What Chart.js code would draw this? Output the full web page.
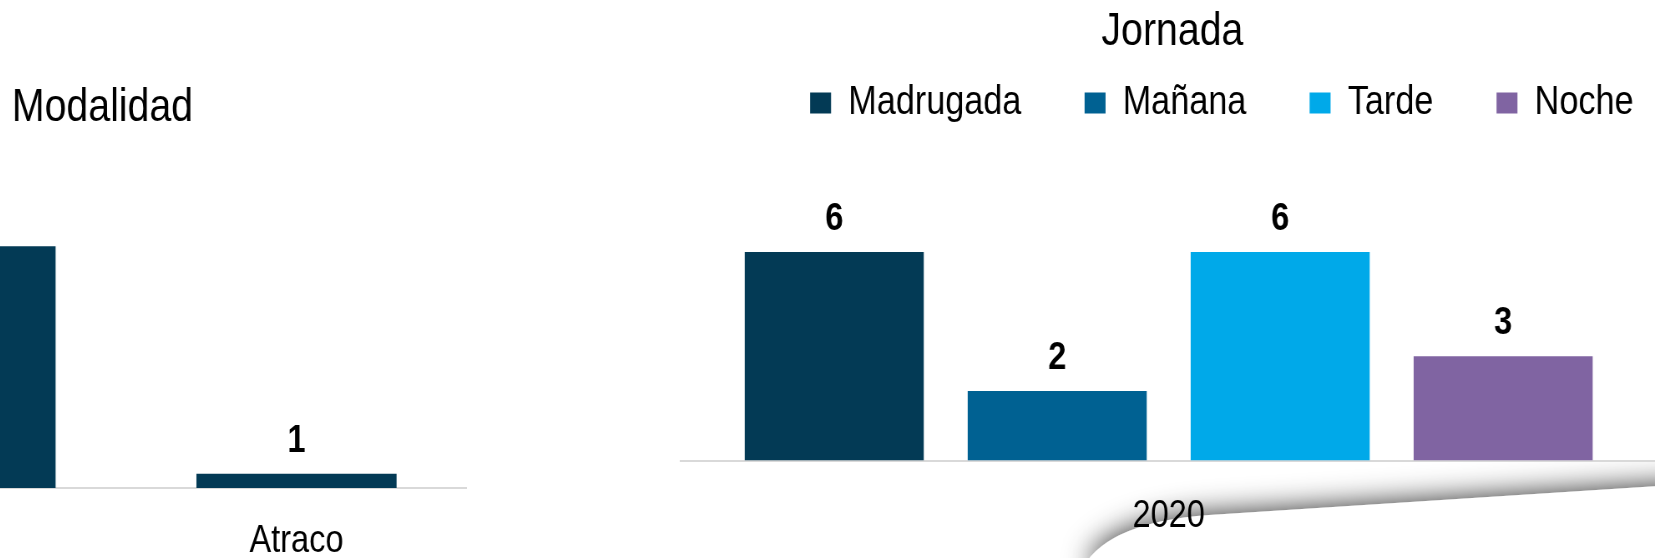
<!DOCTYPE html>
<html>
<head>
<meta charset="utf-8">
<script src="https://cdn.jsdelivr.net/npm/chart.js@4.4.1/dist/chart.umd.min.js"></script>
<style>
  html, body { margin: 0; padding: 0; background: #fff; }
  body { width: 1655px; height: 558px; position: relative; overflow: hidden; }
  /* the slide used Arial Narrow; no narrow face here, so squeeze the canvases */
  canvas { position: absolute; top: 0; transform: scaleX(0.835); transform-origin: 0 0; }
  #modalidad { left: -262.5px; }
  #jornada { left: 648.2px; }
</style>
</head>
<body>
<canvas id="modalidad" width="873" height="595"></canvas>
<canvas id="jornada" width="1256" height="572"></canvas>
<script>
const FONT = "'Liberation Sans', Arial, sans-serif";
const SQUEEZE = 0.835;
const JORNADA_LEFT = 648.2;

// Modalidad
const modalidadLabels = ['Hurto', 'Atraco'];
const modalidadValues = [17, 1];

// Jornada
const jornadaLabels = ['2020'];
const jornadaSeries = ['Madrugada', 'Mañana', 'Tarde', 'Noche'];
const jornadaValues = [6, 2, 6, 3];
const jornadaColors = ['#033a55', '#006192', '#00a9e9', '#8064a2'];

Chart.defaults.font.family = FONT;
Chart.defaults.color = '#000';

// numbers above the bars
const valueLabels = {
  id: 'valueLabels',
  afterDatasetsDraw(chart) {
    const ctx = chart.ctx;
    ctx.save();
    ctx.font = 'bold 39px ' + FONT;
    ctx.fillStyle = '#000';
    ctx.textAlign = 'center';
    ctx.textBaseline = 'middle';
    chart.data.datasets.forEach((ds, i) => {
      chart.getDatasetMeta(i).data.forEach((bar, j) => {
        ctx.fillText(ds.data[j], bar.x, bar.y - 33);
      });
    });
    ctx.restore();
  }
};

// curled page corner under the right chart (page coords)
const pageCurl = {
  id: 'pageCurl',
  beforeDraw(chart) {
    const ctx = chart.ctx;
    ctx.save();
    ctx.scale(1 / SQUEEZE, 1);
    ctx.translate(-JORNADA_LEFT, 0);
    // keep the shadow on the page side of the fold
    ctx.beginPath();
    ctx.moveTo(1720, 462);
    ctx.lineTo(1720, 482);
    ctx.lineTo(1209, 515);
    ctx.quadraticCurveTo(1110, 522, 1084, 566);
    ctx.lineTo(900, 566);
    ctx.lineTo(900, 462);
    ctx.closePath();
    ctx.clip();
    // the fold itself, only its shadow shows
    ctx.beginPath();
    ctx.moveTo(1720, 482);
    ctx.lineTo(1209, 515);
    ctx.quadraticCurveTo(1110, 522, 1084, 566);
    ctx.lineTo(1720, 640);
    ctx.closePath();
    ctx.shadowColor = 'rgba(0,0,0,0.85)';
    ctx.shadowBlur = 30;
    ctx.fillStyle = '#fff';
    ctx.fill();
    ctx.restore();
  }
};

const hiddenAxis = (w, pos) => ({
  display: true,
  position: pos,
  min: 0,
  ticks: { display: false },
  grid: { display: false, drawTicks: false },
  border: { display: false },
  afterFit: (scale) => { scale.width = w; }
});

new Chart(document.getElementById('modalidad'), {
  type: 'bar',
  data: {
    labels: modalidadLabels,
    datasets: [{
      label: 'Modalidad',
      data: modalidadValues,
      backgroundColor: '#033a55',
      categoryPercentage: 1,
      barPercentage: 0.587
    }]
  },
  options: {
    responsive: false,
    animation: false,
    events: [],
    plugins: {
      legend: { display: false },
      tooltip: { enabled: false },
      title: {
        display: true,
        text: 'Modalidad',
        color: '#000',
        font: { size: 47, weight: 'normal', lineHeight: 1.2 },
        padding: { top: 79.8, bottom: 53.1 }
      }
    },
    scales: {
      x: {
        grid: { display: false, drawTicks: false },
        border: { display: true, color: '#d9d9d9', width: 2 },
        ticks: { padding: 34, font: { size: 39, lineHeight: 1 }, color: '#000' }
      },
      y: Object.assign(hiddenAxis(56.3, 'left'), { max: 21 })
    }
  },
  plugins: [valueLabels]
});

new Chart(document.getElementById('jornada'), {
  type: 'bar',
  data: {
    labels: jornadaLabels,
    datasets: jornadaSeries.map((name, i) => ({
      label: name,
      data: [jornadaValues[i]],
      backgroundColor: jornadaColors[i],
      categoryPercentage: 0.914,
      barPercentage: 0.803
    }))
  },
  options: {
    responsive: false,
    animation: false,
    events: [],
    layout: { padding: { bottom: 0.5 } },
    plugins: {
      tooltip: { enabled: false },
      title: {
        display: true,
        text: 'Jornada',
        color: '#000',
        font: { size: 47, weight: 'normal', lineHeight: 1.2 },
        padding: { top: 3.8, bottom: -53.4 }
      },
      legend: {
        display: true,
        position: 'top',
        align: 'end',
        labels: {
          boxWidth: 25.1,
          boxHeight: 21,
          padding: 75.7,
          color: '#000',
          font: { size: 41 }
        }
      }
    },
    scales: {
      x: {
        grid: { display: false, drawTicks: false },
        border: { display: true, color: '#d9d9d9', width: 2 },
        ticks: { padding: 36, font: { size: 39, lineHeight: 1 }, color: '#000' }
      },
      y: Object.assign(hiddenAxis(39.3, 'left'), { max: 9.41 }),
      y2: Object.assign(hiddenAxis(48.1, 'right'), { max: 9.41 })
    }
  },
  plugins: [pageCurl, valueLabels]
});
</script>
</body>
</html>
